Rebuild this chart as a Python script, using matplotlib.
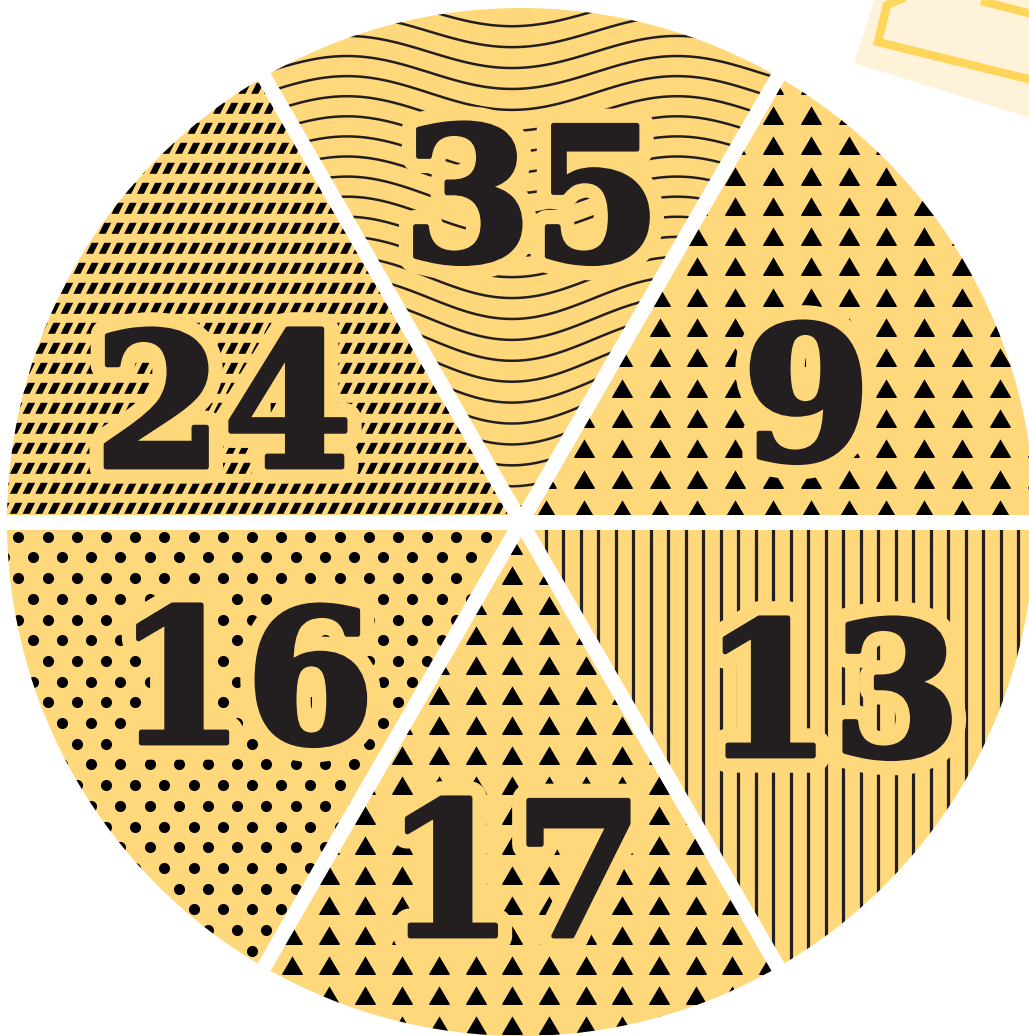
import numpy as np
import matplotlib
matplotlib.use('Agg')
import matplotlib.pyplot as plt
from matplotlib.collections import LineCollection, PolyCollection
import matplotlib.patheffects as pe

# --- Деректер (жоғарыдан бастап сағат тілімен) ---
labels = ['35', '9', '13', '17', '16', '24']
shares = [1, 1, 1, 1, 1, 1]          # бөліктердің бәрі тең
patterns = ['wave', 'tri', 'vline', 'tri', 'dot', 'dash']

# --- Стиль ---
fill = '#FFD87C'
ink = '#231F20'
W, H = 1029, 1036
cx, cy, R = 521, 522, 514
# жазу орнын сәл жылжыту (px)
nudge = [(11, 0), (0, 34), (25, 0), (-7, 15), (10, -13), (-12, 41)]

fig = plt.figure(figsize=(W / 100, H / 100), dpi=100)
ax = fig.add_axes([0, 0, 1, 1])

# y осі төмен қараған, сондықтан counterclock=True көзге сағат тілімен болады
wedges, _ = ax.pie(shares, startangle=-120, counterclock=True, radius=R,
                   center=(cx, cy), colors=[fill] * len(shares),
                   wedgeprops=dict(linewidth=0))
ax.set_xlim(0, W)
ax.set_ylim(H, 0)
ax.set_aspect('auto')
ax.axis('off')


def wave_art():
    xs = np.linspace(200, 850, 500)
    segs = []
    for y0 in np.arange(-30, 580, 20.5):
        amp = 15 + 0.02 * max(y0, 0)
        ys = y0 + amp * np.cos(2 * np.pi * (xs - 512) / 330)
        segs.append(np.column_stack([xs, ys]))
    return LineCollection(segs, colors=ink, linewidths=1.8, zorder=2)


def vline_art():
    segs = [[(x, 480), (x, 1060)] for x in np.arange(510.7, 1050, 17.5)]
    return LineCollection(segs, colors=ink, linewidths=2.3, zorder=2)


tri_marker = [(-1, -0.85), (1, -0.85), (0, 0.85)]


def tri_art(x0, dx, y0, dy, xr, yr):
    xs = np.arange(x0 - dx * 30, xr[1], dx)
    xs = xs[xs > xr[0]]
    ys = np.arange(y0 - dy * 30, yr[1], dy)
    ys = ys[ys > yr[0]]
    gx, gy = np.meshgrid(xs, ys)
    return ax.scatter(gx.ravel(), gy.ravel(), s=15.5 ** 2, marker=tri_marker,
                      color='black', linewidths=0, zorder=2)


def dot_art():
    pts = []
    for j, y in enumerate(np.arange(536.7 - 20.7 * 2, 1060, 20.7)):
        off = 14.6 if j % 2 else 0
        for x in np.arange(18.3 - 29.2 + off, 560, 29.2):
            pts.append((x, y))
    pts = np.array(pts)
    return ax.scatter(pts[:, 0], pts[:, 1], s=8.0 ** 2, marker='o',
                      color='black', linewidths=0, zorder=2)


def dash_art():
    polys = []
    for y in np.arange(268.3 - 20 * 11, 560, 20):
        for x in np.arange(-10, 560, 12.7):
            polys.append([(x - 5.5, y + 5.5), (x + 1.5, y + 5.5),
                          (x + 7, y - 5.5), (x, y - 5.5)])
    return PolyCollection(polys, facecolors='black', edgecolors='none', zorder=2)


for w, pat in zip(wedges, patterns):
    if pat == 'wave':
        art = wave_art()
        ax.add_collection(art)
    elif pat == 'vline':
        art = vline_art()
        ax.add_collection(art)
    elif pat == 'tri':
        mid = 0.5 * (w.theta1 + w.theta2)
        if np.sin(np.radians(mid)) < 0:   # жоғарғы оң жақ
            art = tri_art(773, 37.8, 115, 30.3, (480, 1060), (60, 540))
        else:                               # төменгі
            art = tri_art(292, 36.7, 965, 30.0, (240, 800), (520, 1060))
    elif pat == 'dot':
        art = dot_art()
    else:
        art = dash_art()
        ax.add_collection(art)
    art.set_clip_path(w)

# ақ аралықтар
for w in wedges:
    a = np.radians(w.theta1)
    ax.plot([cx, cx + 560 * np.cos(a)], [cy, cy + 560 * np.sin(a)],
            color='white', lw=10.8, solid_capstyle='butt', zorder=3)

# сандар
for w, lab, (dx, dy) in zip(wedges, labels, nudge):
    a = np.radians(0.5 * (w.theta1 + w.theta2))
    tx = cx + 330 * np.cos(a) + dx
    ty = cy + 330 * np.sin(a) + dy + 69
    ax.text(tx, ty, lab, ha='center', va='baseline', fontsize=134,
            fontweight='bold', family='DejaVu Serif', color=ink, zorder=4,
            path_effects=[pe.Stroke(linewidth=24, foreground=fill),
                          pe.Stroke(linewidth=3.5, foreground=ink),
                          pe.Normal()])

# оң жақ жоғарғы бұрыштағы әшекей
ax.fill([854, 876, 1040, 1040], [63, -5, -5, 121], color='#FEF3D9', lw=0, zorder=0.5)
ax.plot([903, 887, 878, 1040], [-2, 5, 42, 82], color='#FFD55A', lw=6,
        solid_joinstyle='miter', zorder=0.6)
ax.plot([985, 1040], [2, 16], color='#FFD55A', lw=6, zorder=0.6)

fig.savefig('out.png', dpi=100)
